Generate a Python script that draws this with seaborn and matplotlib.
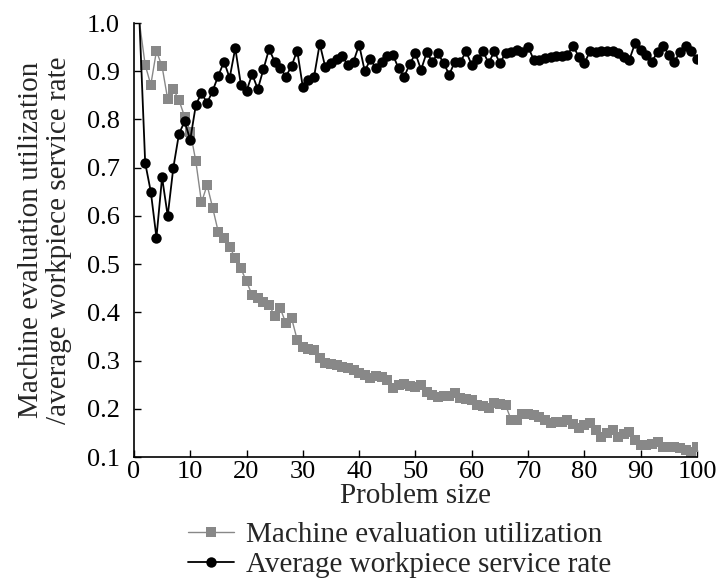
import numpy as np
import pandas as pd
import seaborn as sns
import matplotlib
matplotlib.use("Agg")
import matplotlib.pyplot as plt

# %% data
problem_size = list(range(1, 101))

machine_utilization = [
    1.0, 0.913, 0.872, 0.942, 0.91, 0.842, 0.863, 0.84, 0.806, 0.775,
    0.713, 0.628, 0.664, 0.616, 0.566, 0.554, 0.536, 0.512, 0.491, 0.464,
    0.436, 0.429, 0.422, 0.415, 0.393, 0.408, 0.377, 0.388, 0.343, 0.329,
    0.325, 0.322, 0.305, 0.296, 0.293, 0.291, 0.287, 0.284, 0.28, 0.275,
    0.27, 0.263, 0.268, 0.265, 0.26, 0.243, 0.249, 0.251, 0.248, 0.246,
    0.249, 0.235, 0.229, 0.225, 0.226, 0.227, 0.233, 0.222, 0.22, 0.218,
    0.208, 0.205, 0.201, 0.211, 0.21, 0.208, 0.177, 0.177, 0.19, 0.19,
    0.187, 0.184, 0.177, 0.17, 0.172, 0.173, 0.177, 0.168, 0.16, 0.166,
    0.171, 0.156, 0.142, 0.15, 0.156, 0.142, 0.147, 0.152, 0.135, 0.125,
    0.125, 0.128, 0.132, 0.121, 0.121, 0.121, 0.118, 0.115, 0.111, 0.121,
]

service_rate = [
    1.0, 0.71, 0.65, 0.555, 0.68, 0.60, 0.70, 0.77, 0.796, 0.758,
    0.83, 0.855, 0.834, 0.86, 0.891, 0.92, 0.886, 0.948, 0.872, 0.859,
    0.894, 0.863, 0.904, 0.946, 0.92, 0.906, 0.889, 0.911, 0.943, 0.867,
    0.881, 0.889, 0.957, 0.908, 0.917, 0.925, 0.931, 0.913, 0.92, 0.955,
    0.90, 0.925, 0.906, 0.92, 0.931, 0.934, 0.906, 0.889, 0.915, 0.937,
    0.903, 0.939, 0.92, 0.937, 0.917, 0.893, 0.92, 0.92, 0.941, 0.913,
    0.925, 0.941, 0.917, 0.941, 0.917, 0.937, 0.94, 0.944, 0.94, 0.951,
    0.924, 0.924, 0.927, 0.93, 0.931, 0.932, 0.934, 0.953, 0.93, 0.917,
    0.941, 0.94, 0.941, 0.941, 0.941, 0.937, 0.93, 0.924, 0.958, 0.944,
    0.934, 0.92, 0.94, 0.953, 0.934, 0.92, 0.94, 0.953, 0.941, 0.925,
]

df = pd.DataFrame({
    "size": problem_size,
    "util": machine_utilization,
    "service": service_rate,
})

# %% style
sns.set_style("ticks")
plt.rcParams["font.family"] = ["Liberation Serif", "DejaVu Serif"]

fig = plt.figure(figsize=(7.2, 5.83), dpi=100)
ax = fig.add_axes([0.186, 0.2161, 0.782, 0.7444])

sns.lineplot(data=df, x="size", y="util", ax=ax,
             color="#888888", linewidth=1.0,
             marker="s", markersize=7.5, markeredgewidth=0,
             markevery=slice(1, None),
             label="Machine evaluation utilization")
sns.lineplot(data=df, x="size", y="service", ax=ax,
             color="black", linewidth=1.3,
             marker="o", markersize=7.5, markeredgewidth=0,
             markevery=slice(1, None),
             label="Average workpiece service rate")

ax.set_xlim(0, 100)
ax.set_ylim(0.1, 1.0)
ax.set_xticks(np.arange(0, 101, 10))
ax.set_yticks(np.round(np.arange(0.1, 1.01, 0.1), 1))
ax.set_yticklabels([f"{v:.1f}" for v in np.arange(0.1, 1.01, 0.1)])
ax.tick_params(direction="in", length=5, width=1, labelsize=19, colors="black")
ax.tick_params(axis="y", pad=10)
ax.tick_params(axis="x", pad=3)
sns.despine(ax=ax)
for s in ["left", "bottom"]:
    ax.spines[s].set_linewidth(1.2)
    ax.spines[s].set_color("black")

ax.set_xlabel("Problem size", fontsize=21, labelpad=0)
ax.set_ylabel("Machine evaluation utilization\n/average workpiece service rate",
              fontsize=21, labelpad=11, linespacing=1.1)

ax.get_legend().remove()
handles, labels = ax.get_legend_handles_labels()
fig.legend(handles, labels, loc="upper center",
           bbox_to_anchor=(0.555, 0.13), frameon=False,
           fontsize=21, handlelength=1.6, handletextpad=0.4,
           labelspacing=0.12, borderpad=0)

fig.savefig("out.png", dpi=100)
